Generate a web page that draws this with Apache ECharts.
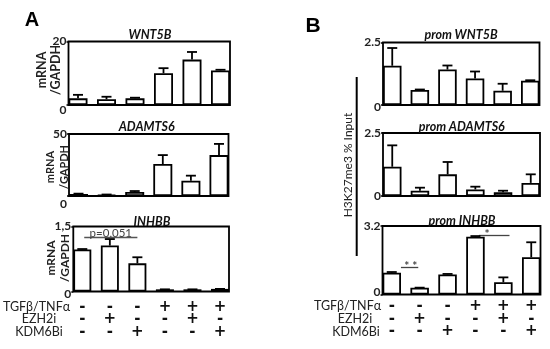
<!DOCTYPE html>
<html><head><meta charset="utf-8">
<script src="https://cdn.jsdelivr.net/npm/echarts@6/dist/echarts.min.js"></script>
<style>html,body{margin:0;padding:0;background:#fff}#c{width:550px;height:349px}</style>
</head><body><div id="c"></div>
<script>
// ---- data ----
const groups = [1, 2, 3, 4, 5, 6];
const tgfRow = ['-', '-', '-', '+', '+', '+'];
const ezh2Row = ['-', '+', '-', '-', '+', '-'];
const kdmRow = ['-', '-', '+', '-', '-', '+'];
const rowNames = ['TGFβ/TNFα', 'EZH2i', 'KDM6Bi'];

const wnt5bMean = [2.1, 1.8, 2.1, 10.0, 14.3, 10.9];
const wnt5bErr = [1.1, 0.8, 0.2, 1.6, 2.4, 0.2];
const adamts6Mean = [1.6, 1.0, 3.2, 25.8, 12.3, 33.0];
const adamts6Err = [0.3, 0.2, 0.8, 7.2, 4.1, 9.0];
const inhbbMean = [0.97, 1.06, 0.65, 0.05, 0.05, 0.06];
const inhbbErr = [0.01, 0.15, 0.14, 0, 0, 0];
const promWnt5bMean = [1.57, 0.60, 1.42, 1.06, 0.57, 0.97];
const promWnt5bErr = [0.71, 0.02, 0.16, 0.28, 0.28, 0.02];
const promAdamts6Mean = [1.16, 0.21, 0.86, 0.26, 0.15, 0.52];
const promAdamts6Err = [0.85, 0.12, 0.49, 0.11, 0.06, 0.34];
const promInhbbMean = [1.02, 0.32, 0.94, 2.70, 0.57, 1.74];
const promInhbbErr = [0.03, 0, 0.02, 0.03, 0.23, 0.70];

const yMax = [20, 50, 1.5, 2.5, 2.5, 3.2];
const yMaxLabels = ['20', '50', '1,5', '2.5', '2.5', '3.2'];
const titles = ['WNT5B', 'ADAMTS6', 'INHBB', 'prom WNT5B', 'prom ADAMTS6', 'prom INHBB'];

// annotations (data coordinates)
const pLine = [[1.07, 1.255], [3.0, 1.255]];
const pText = 'p=0,051';
const starLine1 = [[1.33, 1.27], [1.95, 1.27]];
const starLine2 = [[4.12, 2.78], [5.22, 2.78]];

// ---- layout ----
const means = [wnt5bMean, adamts6Mean, inhbbMean, promWnt5bMean, promAdamts6Mean, promInhbbMean];
const errs = [wnt5bErr, adamts6Err, inhbbErr, promWnt5bErr, promAdamts6Err, promInhbbErr];
const boxes = [
  {l: 68.5, t: 41.5, w: 161.5, h: 63.5, bw: 19, zp: [10, 0, 0, 0]},
  {l: 69, t: 134, w: 159.5, h: 62, bw: 19, zp: [17, 0, 0, 0]},
  {l: 73.3, t: 226.5, w: 155.7, h: 65, bw: 18, zp: [5, 0, 0, 0]},
  {l: 383, t: 42.5, w: 156.5, h: 62.5, bw: 18.5, zp: [4, 0, 0, 0]},
  {l: 383, t: 133, w: 157, h: 63, bw: 18.5, zp: [0, 0, 0, 0]},
  {l: 382.5, t: 226, w: 158, h: 68.5, bw: 18.5, zp: [0, 0, 5, 0]}
];
const FONT = 'Lato, "Open Sans", sans-serif';
const SIGNFONT = '"DejaVu Sans", sans-serif';

const grid = [], xAxis = [], yAxis = [], series = [];

function errRender(params, api) {
  const x = api.value(0), m = api.value(1), t = api.value(2);
  const p0 = api.coord([x, m]);
  const p1 = api.coord([x, t]);
  const st = {stroke: '#000', lineWidth: 1.8};
  return {type: 'group', children: [
    {type: 'line', shape: {x1: p0[0], y1: p0[1], x2: p1[0], y2: p1[1]}, style: st},
    {type: 'line', shape: {x1: p1[0] - 5, y1: p1[1], x2: p1[0] + 5, y2: p1[1]}, style: st}
  ]};
}

boxes.forEach((b, i) => {
  const s = (b.w - b.bw) / 5;
  const pad = b.bw / 2 / s;
  grid.push({left: b.l, top: b.t, width: b.w, height: b.h, show: true,
    borderColor: '#000', borderWidth: 1.8, backgroundColor: 'transparent'});
  const bottom = (i === 2 || i === 5);
  xAxis.push({
    type: 'value', gridIndex: i, min: 1 - pad, max: 6 + pad,
    axisLine: {show: false}, axisTick: {show: false}, splitLine: {show: false},
    axisLabel: bottom ? {
      show: true, customValues: groups, margin: i === 2 ? 9 : 5,
      formatter: (v) => {
        const k = Math.round(v) - 1;
        return '{s|' + tgfRow[k] + '}\n{s|' + ezh2Row[k] + '}\n{s|' + kdmRow[k] + '}';
      },
      rich: {s: {fontFamily: SIGNFONT, fontWeight: 'bold', fontSize: 15, lineHeight: i === 2 ? 12.5 : 12.8, color: '#111'}}
    } : {show: false}
  });
  yAxis.push({
    type: 'value', gridIndex: i, min: 0, max: yMax[i], interval: yMax[i],
    axisLine: {show: false}, splitLine: {show: false},
    axisTick: {show: true, length: 2, lineStyle: {color: '#000', width: 1.5}},
    axisLabel: {
      margin: 2, fontFamily: FONT, fontWeight: 'bold', fontSize: 12, color: '#222',
      formatter: (v) => v === 0 ? '{z|0}' : '{t|' + yMaxLabels[i] + '}',
      rich: {z: {padding: b.zp, fontFamily: FONT, fontWeight: 'bold', fontSize: 12, color: '#222'},
             t: {fontFamily: FONT, fontWeight: 'bold', fontSize: 12, color: '#222'}}
    }
  });
  const bar = {
    type: 'bar', xAxisIndex: i, yAxisIndex: i, barWidth: b.bw, silent: true,
    data: groups.map((g, k) => [g, means[i][k]]),
    itemStyle: {color: '#fff', borderColor: '#000', borderWidth: 1.8}
  };
  if (i === 2) {
    bar.markLine = {silent: true, symbol: 'none', animation: false,
      lineStyle: {color: '#555', width: 1.3, type: 'solid'}, label: {show: false},
      data: [[{coord: pLine[0]}, {coord: pLine[1]}]]};
    bar.markPoint = {silent: true, animation: false, symbol: 'circle', symbolSize: 1,
      itemStyle: {color: 'rgba(0,0,0,0)'},
      label: {show: true, position: 'inside', offset: [0, -4], fontFamily: FONT, fontSize: 11.5, color: '#444'},
      data: [{coord: [(pLine[0][0] + pLine[1][0]) / 2, pLine[0][1]], value: pText, label: {formatter: pText}}]};
  }
  if (i === 5) {
    bar.markLine = {silent: true, symbol: 'none', animation: false,
      lineStyle: {color: '#444', width: 1.3, type: 'solid'}, label: {show: false},
      data: [[{coord: starLine1[0]}, {coord: starLine1[1]}], [{coord: starLine2[0]}, {coord: starLine2[1]}]]};
    bar.markPoint = {silent: true, animation: false, symbol: 'circle', symbolSize: 1,
      itemStyle: {color: 'rgba(0,0,0,0)'},
      label: {show: true, position: 'inside', offset: [0, -1], fontFamily: FONT, fontWeight: 'bold', fontSize: 12, color: '#444'},
      data: [
        {coord: [1.68, starLine1[0][1]], label: {formatter: '* *'}},
        {coord: [4.42, starLine2[0][1]], label: {formatter: '*'}}
      ]};
  }
  series.push(bar);
  series.push({
    type: 'custom', xAxisIndex: i, yAxisIndex: i, silent: true, z: 5,
    encode: {x: 0, y: [1, 2]},
    data: groups.map((g, k) => [g, means[i][k], means[i][k] + errs[i][k]]),
    renderItem: errRender
  });
});

// ---- texts ----
const titlePos = [[150, 35], [146.7, 126.7], [152, 221.7], [461, 35], [461.7, 126.7], [462, 221]];
const graphic = [];
titles.forEach((t, i) => graphic.push({type: 'text', x: titlePos[i][0], y: titlePos[i][1],
  style: {text: t, textAlign: 'center', textVerticalAlign: 'middle', fontFamily: FONT,
    fontWeight: 'bold', fontStyle: 'italic', fontSize: 12.5, fill: '#111'}}));
[[49, 70, 12.5], [57.5, 167, 11], [58, 258, 12]].forEach(p => graphic.push({type: 'text', x: p[0], y: p[1],
  rotation: Math.PI / 2,
  style: {text: 'mRNA\n/GAPDH', textAlign: 'center', textVerticalAlign: 'middle', fontFamily: FONT,
    fontWeight: 'bold', fontSize: p[2], lineHeight: 14.5, fill: '#222'}}));
graphic.push({type: 'text', x: 348, y: 165, rotation: Math.PI / 2,
  style: {text: 'H3K27me3 % Input', textAlign: 'center', textVerticalAlign: 'middle', fontFamily: FONT,
    fontSize: 12, fill: '#222'}});
graphic.push({type: 'line', shape: {x1: 356.7, y1: 77, x2: 356.7, y2: 256}, style: {stroke: '#000', lineWidth: 2}});
graphic.push({type: 'text', x: 32, y: 20, style: {text: 'A', textAlign: 'center', textVerticalAlign: 'middle',
  fontFamily: '"Liberation Sans", Arial, sans-serif', fontWeight: 'bold', fontSize: 20, fill: '#000'}});
graphic.push({type: 'text', x: 313, y: 26, style: {text: 'B', textAlign: 'center', textVerticalAlign: 'middle',
  fontFamily: '"Liberation Sans", Arial, sans-serif', fontWeight: 'bold', fontSize: 21, fill: '#000'}});
const rowYA = [306.7, 319.2, 331.7], rowXA = [36.5, 39, 39];
const rowYB = [306, 318.8, 331.6], rowXB = [347.5, 355, 356];
rowNames.forEach((n, k) => {
  graphic.push({type: 'text', x: rowXA[k], y: rowYA[k], style: {text: n, textAlign: 'center',
    textVerticalAlign: 'middle', fontFamily: FONT, fontSize: 12.5, fill: '#222'}});
  graphic.push({type: 'text', x: rowXB[k], y: rowYB[k], style: {text: n, textAlign: 'center',
    textVerticalAlign: 'middle', fontFamily: FONT, fontSize: 12.5, fill: '#222'}});
});

const chart = echarts.init(document.getElementById('c'), null, {renderer: 'canvas'});
chart.setOption({animation: false, backgroundColor: '#fff', grid, xAxis, yAxis, series, graphic});
</script>
</body></html>
